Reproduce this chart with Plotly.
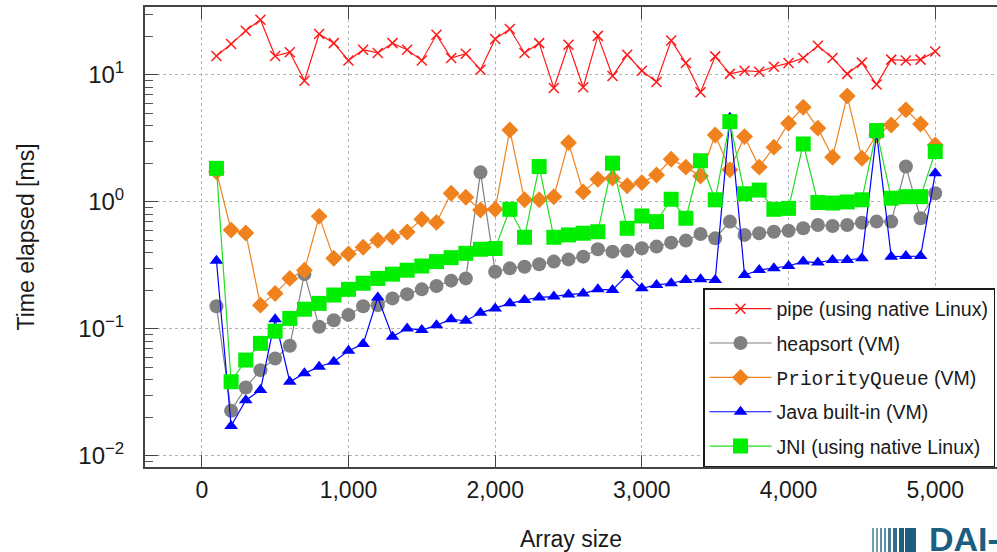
import plotly.graph_objects as go

sizes = list(range(100, 5001, 100))

pipe = [14.1, 17.5, 22.3, 27.2, 14.1, 15.1, 9.0, 21.0, 17.8, 13.0,
        15.8, 14.9, 17.8, 15.8, 13.0, 20.7, 13.6, 14.7, 11.0, 19.2,
        23.0, 14.9, 17.8, 7.9, 17.3, 8.0, 20.3, 9.8, 14.4, 10.8,
        8.8, 18.7, 12.4, 7.3, 14.0, 10.2, 10.8, 10.6, 11.6, 12.4,
        13.6, 17.0, 13.6, 10.2, 12.5, 8.4, 13.2, 13.0, 13.2, 15.3]

heapsort = [0.151, 0.0227, 0.0346, 0.0474, 0.0586, 0.0737, 0.271, 0.104, 0.117, 0.129,
            0.151, 0.154, 0.174, 0.188, 0.205, 0.218, 0.24, 0.25, 1.71, 0.282,
            0.30, 0.309, 0.323, 0.339, 0.353, 0.371, 0.424, 0.406, 0.413, 0.432,
            0.445, 0.478, 0.496, 0.56, 0.517, 0.70, 0.55, 0.567, 0.583, 0.594,
            0.62, 0.659, 0.647, 0.659, 0.687, 0.70, 0.70, 1.90, 0.744, 1.17]

priority_queue = [1.73, 0.60, 0.57, 0.154, 0.19, 0.25, 0.29, 0.77, 0.36, 0.39,
                  0.44, 0.50, 0.53, 0.58, 0.73, 0.69, 1.17, 1.09, 0.865, 0.875,
                  3.69, 1.04, 1.04, 1.10, 2.93, 1.20, 1.51, 1.54, 1.34, 1.42,
                  1.63, 2.17, 1.88, 1.60, 3.37, 1.79, 3.27, 1.88, 2.70, 4.17,
                  5.57, 3.81, 2.25, 6.84, 2.21, 3.37, 4.04, 5.31, 4.11, 2.81]

java_builtin = [0.344, 0.0172, 0.0275, 0.033, 0.119, 0.0384, 0.0447, 0.0504, 0.0552, 0.0673,
                0.076, 0.177, 0.0869, 0.101, 0.098, 0.107, 0.119, 0.116, 0.134, 0.145,
                0.159, 0.169, 0.177, 0.18, 0.187, 0.19, 0.205, 0.203, 0.266, 0.209,
                0.222, 0.229, 0.243, 0.246, 0.243, 4.6, 0.266, 0.291, 0.30, 0.313,
                0.339, 0.333, 0.349, 0.349, 0.36, 3.5, 0.371, 0.375, 0.375, 1.68]

jni = [1.84, 0.0384, 0.0569, 0.077, 0.096, 0.121, 0.143, 0.159, 0.185, 0.205,
       0.229, 0.25, 0.27, 0.29, 0.313, 0.339, 0.364, 0.394, 0.424, 0.43,
       0.875, 0.527, 1.90, 0.527, 0.55, 0.567, 0.583, 2.02, 0.62, 0.776,
       0.70, 1.05, 0.744, 2.11, 1.04, 4.29, 1.16, 1.24, 0.875, 0.89,
       2.86, 0.99, 0.98, 1.0, 1.04, 3.65, 1.07, 1.10, 1.10, 2.49]

names = ["pipe (using native Linux)",
         "heapsort (VM)",
         "<span style='font-family:Liberation Mono'>PriorityQueue</span> (VM)",
         "Java built-in (VM)",
         "JNI (using native Linux)"]

y_tickvals = [0.01, 0.1, 1, 10]
y_ticktext = ["10<sup>\u22122</sup>", "10<sup>\u22121</sup>", "10<sup>0</sup>", "10<sup>1</sup>"]
x_tickvals = [0, 1000, 2000, 3000, 4000, 5000]
x_ticktext = ["0", "1,000", "2,000", "3,000", "4,000", "5,000"]

series = [
    (pipe, "#ff1a1a", dict(symbol="x-thin-open", size=10, line=dict(width=1.5, color="#ff1a1a"))),
    (heapsort, "#808080", dict(symbol="circle", size=14, color="#808080")),
    (priority_queue, "#f0821e", dict(symbol="diamond", size=13, color="#f0821e")),
    (java_builtin, "#0000ff", dict(symbol="triangle-up", size=12, color="#0000ff")),
    (jni, "#22dd22", dict(symbol="square", size=15, color="#00ee00")),
]

fig = go.Figure()
for i, (vals, col, mk) in enumerate(series):
    fig.add_trace(go.Scatter(
        x=sizes, y=vals, mode="lines+markers", name=names[i],
        legendgroup=f"g{i}",
        line=dict(color=col, width=1.2), marker=mk,
    ))

W, H = 997, 552
L, R, T, B = 145, 0, 7, 85

fig.update_layout(
    width=W, height=H,
    margin=dict(l=L, r=R, t=T, b=B, autoexpand=False),
    paper_bgcolor="white", plot_bgcolor="white",
    font=dict(family="Liberation Sans, Arial, sans-serif", color="#1a1a1a"),
    showlegend=True,
    legend=dict(
        x=(703 - L) / (W - L - R), xanchor="left",
        y=0, yanchor="bottom",
        bgcolor="white", bordercolor="#1a1a1a", borderwidth=1.5,
        font=dict(size=19.5, color="#1a1a1a"),
        itemwidth=62, tracegroupgap=6,
    ),
    xaxis=dict(
        range=[-387, 5421], automargin=False,
        tickmode="array", tickvals=x_tickvals, ticktext=x_ticktext,
        ticks="inside", ticklen=12, tickcolor="#444",
        tickfont=dict(size=23),
        ticklabelstandoff=1,
        showgrid=True, gridcolor="#b4b4b4", griddash="dot", gridwidth=1,
        zeroline=False,
        showline=True, linecolor="#444", linewidth=2, mirror="ticks",
        title=dict(text="Array size", font=dict(size=23), standoff=29),
    ),
    yaxis=dict(
        type="log", range=[-2.087, 1.535], automargin=False,
        tickmode="array", tickvals=y_tickvals, ticktext=y_ticktext,
        ticks="inside", ticklen=13, tickcolor="#444",
        tickfont=dict(size=24),
        ticklabelstandoff=14,
        minor=dict(ticks="inside", ticklen=8, tickcolor="#555", dtick="D1", showgrid=False),
        showgrid=True, gridcolor="#b4b4b4", griddash="dot", gridwidth=1,
        zeroline=False,
        showline=True, linecolor="#444", linewidth=2, mirror=False,
        title=dict(text="Time elapsed [ms]", font=dict(size=23), standoff=37),
    ),
)

# partially visible logo in the bottom-right corner
logo = "#1b5e80"
def px_x(p):
    return (p - L) / (W - L - R)
def px_y(p):
    return (H - B - p) / (H - T - B)
for xs, w, op in [(872, 2, 0.6), (876, 2, 0.6), (880, 2, 0.7), (884, 2, 0.7),
                  (888, 3, 0.8), (893, 4, 0.9), (899, 5, 1.0), (905, 11, 1.0)]:
    fig.add_shape(type="rect", xref="paper", yref="paper",
                  x0=px_x(xs), x1=px_x(xs + w), y0=px_y(552), y1=px_y(528),
                  fillcolor=logo, opacity=op, line=dict(width=0), layer="above")
fig.add_annotation(text="<b>DAI-</b>", xref="paper", yref="paper",
                   x=px_x(927), y=px_y(552), xanchor="left", yanchor="bottom",
                   showarrow=False, font=dict(size=34, color=logo, family="Liberation Sans"),
                   yshift=-8)

fig.write_html("out.html", config={"displayModeBar": False},
               post_script="document.body.style.margin='0';document.body.style.overflow='hidden';")
